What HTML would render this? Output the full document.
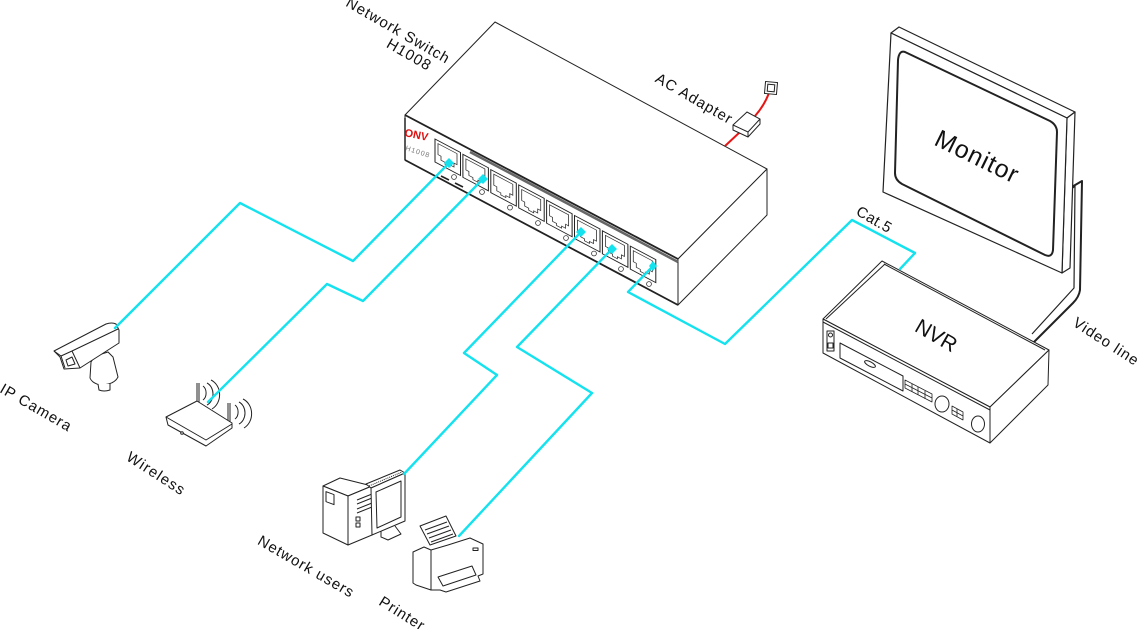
<!DOCTYPE html>
<html><head><meta charset="utf-8"><style>
html,body{margin:0;padding:0;background:#fff;}
svg{display:block;}
text{font-family:"Liberation Sans","DejaVu Sans",sans-serif;fill:#111;}
</style></head><body>
<svg width="1140" height="629" viewBox="0 0 1140 629" xmlns="http://www.w3.org/2000/svg">
<defs>
<g id="port">
  <path d="M0,0 L25.5,0 L25.5,23 L0,23 Z" fill="#fff" stroke="#222" stroke-width="1"/>
  <path d="M3,3 H22 V14 H19 V18 H15 V20 H10 V18 H6 V14 H3 Z" fill="none" stroke="#333" stroke-width="0.8"/>
</g>
</defs>

<!-- ===== Switch ===== -->
<g stroke="#222" stroke-width="1" fill="#fff" stroke-linejoin="round">
  <polygon points="495,22 767,169 678,259 405,115"/>
  <polygon points="405,115 678,259 678,305 405,160"/>
  <polygon points="678,259 767,169 767,215 678,305"/>
  <line x1="405" y1="115" x2="678" y2="259" stroke-width="1.8"/>
  <line x1="470" y1="152" x2="678" y2="262" stroke="#666" stroke-width="2.5"/>
  <line x1="405" y1="160" x2="678" y2="305" stroke-width="1.8"/>
  <line x1="405" y1="118" x2="405" y2="160" stroke-width="1.5"/>
</g>
<text x="404" y="136" font-size="11" font-weight="bold" style="fill:#e01010" transform="rotate(12 404 136)">ONV</text>
<text x="405" y="150" font-size="7" style="fill:#777;letter-spacing:1px" transform="rotate(18 405 150)">H1008</text>

<!-- ports -->
<g>
  <use href="#port" transform="matrix(1 0.53 0 1 435 139)"/>
  <use href="#port" transform="matrix(1 0.53 0 1 462.9 154.3)"/>
  <use href="#port" transform="matrix(1 0.53 0 1 490.8 169.6)"/>
  <use href="#port" transform="matrix(1 0.53 0 1 518.7 184.9)"/>
  <use href="#port" transform="matrix(1 0.53 0 1 546.6 200.2)"/>
  <use href="#port" transform="matrix(1 0.53 0 1 574.5 215.5)"/>
  <use href="#port" transform="matrix(1 0.53 0 1 602.4 230.8)"/>
  <use href="#port" transform="matrix(1 0.53 0 1 630.3 246.1)"/>
</g>
<g fill="#fff" stroke="#333" stroke-width="0.8">
  <circle cx="454" cy="177" r="2.4"/>
  <circle cx="482" cy="192" r="2.4"/>
  <circle cx="510" cy="207.6" r="2.4"/>
  <circle cx="538" cy="223" r="2.4"/>
  <circle cx="566" cy="238" r="2.4"/>
  <circle cx="594" cy="253.5" r="2.4"/>
  <circle cx="621" cy="269" r="2.4"/>
  <circle cx="649" cy="284" r="2.4"/>
</g>
<g stroke="#222" stroke-width="1.6">
  <line x1="441" y1="176" x2="449" y2="180"/>
  <line x1="455" y1="183" x2="463" y2="187"/>
</g>

<!-- AC adapter -->
<g stroke="#e81515" stroke-width="2" fill="none">
  <path d="M725,146 L740,132"/>
  <path d="M755,116 Q764,106 769,93"/>
</g>
<g stroke="#222" stroke-width="1" fill="#fff">
  <polygon points="733,125 747,112 760,119 760,124 748,137 733,130"/>
  <polyline points="733,125 748,132 760,119" fill="none"/>
  <line x1="748" y1="132" x2="748" y2="137"/>
  <rect x="765" y="82" width="12" height="12" transform="rotate(5 771 88)"/>
  <rect x="767.5" y="84.5" width="7" height="7" transform="rotate(5 771 88)"/>
</g>

<!-- ===== Monitor ===== -->
<g stroke="#222" stroke-width="1.2" fill="#fff" stroke-linejoin="round">
  <path d="M1070,188 L1082,181 L1080,290 Q1079,297 1073,303 L1034,342" fill="none" stroke-width="2"/>
  <path d="M1073,188 L1075,186 L1074,288 L1032,334" fill="none"/>
  <polygon points="891,33 899,27 1075,112 1067,118"/>
  <polygon points="1067,118 1075,112 1070,268 1062,273"/>
  <polygon points="891,33 1067,118 1062,273 883,192"/>
  <path d="M905,52 L1050,121 Q1057,125 1057,132 L1053,250 Q1052,258 1045,255 L902,184 Q895,180 895,173 L898,60 Q899,50 905,52 Z" stroke-width="2"/>
</g>
<text x="977" y="157" font-size="25" text-anchor="middle" dominant-baseline="central" transform="rotate(26 977 157)" style="letter-spacing:1px">Monitor</text>

<!-- ===== NVR ===== -->
<g stroke="#222" stroke-width="1" fill="#fff" stroke-linejoin="round">
  <polygon points="882,261 1049,350 990,407 823,319"/>
  <polyline points="884,264 1045,350" fill="none"/>
  <polyline points="826,319 885,264" fill="none"/>
  <polygon points="823,319 990,407 990,443 823,353"/>
  <polygon points="990,407 1049,350 1048,385 990,443"/>
  <line x1="823" y1="322" x2="990" y2="410"/>
  <rect x="827" y="331" width="7" height="20" fill="none"/>
  <circle cx="830.5" cy="335" r="2"/>
  <rect x="828" y="343" width="5" height="5"/>
  <polygon points="840,343 903,376 903,391 840,358"/>
  <ellipse cx="870" cy="364" rx="6" ry="2.2" transform="rotate(28 870 364)"/>
  <g stroke-width="0.8">
    <polygon points="905,380 932,394 932,402 905,388"/>
    <line x1="905" y1="384" x2="932" y2="398"/>
    <line x1="912" y1="384" x2="912" y2="392"/>
    <line x1="918" y1="387" x2="918" y2="395"/>
    <line x1="925" y1="391" x2="925" y2="399"/>
    <polygon points="952,406 963,412 963,420 952,414"/>
    <line x1="952" y1="410" x2="963" y2="416"/>
    <line x1="957" y1="409" x2="957" y2="417"/>
  </g>
  <ellipse cx="942" cy="404" rx="7" ry="8"/>
  <ellipse cx="978" cy="424" rx="6.5" ry="8"/>
</g>
<text x="936" y="336" font-size="21" text-anchor="middle" dominant-baseline="central" transform="rotate(30 936 336)">NVR</text>

<!-- ===== IP Camera ===== -->
<g stroke="#222" stroke-width="1" fill="#fff" stroke-linejoin="round">
  <path d="M91,362 L95,356 L108,352 L113,357 L118,377 Q114,385 100,385 Q92,383 90,378 Z"/>
  <path d="M98,384 L99,390 Q104,392 110,390 L110,384"/>
  <path d="M54,351 L106,324 Q112,322 116,324 L119,330 L119,343 L80,368 L64,369 L60,357 Z"/>
  <path d="M54,351 L61,356 L65,368 M61,356 L72,351 L80,368 M72,351 L118,329" fill="none"/>
  <path d="M66,360 L72,357 L75,364 L68,366 Z"/>
</g>

<!-- ===== Wireless router ===== -->
<g stroke="#222" stroke-width="1" fill="#fff" stroke-linejoin="round">
  <path d="M197,383 L197,403 M199,383 L199,403 M228,403 L228,424 M230,403 L230,424" fill="none"/>
  <path d="M166,417 L197,401 L232,423 L232,428 L206,446 L168,425 Z"/>
  <path d="M166,417 L206,440 L232,424" fill="none"/>
  <circle cx="182" cy="433" r="1.3"/>
  <g fill="none">
    <path d="M203,386 A6,8 0 0 1 203,400"/>
    <path d="M207,383 A10,12 0 0 1 207,405"/>
    <path d="M211,380 A14,16 0 0 1 212,409"/>
    <path d="M235,405 A6,8 0 0 1 235,419"/>
    <path d="M239,402 A10,12 0 0 1 239,424"/>
    <path d="M243,399 A14,16 0 0 1 244,428"/>
  </g>
</g>

<!-- ===== Computer ===== -->
<g stroke="#222" stroke-width="1" fill="#fff" stroke-linejoin="round">
  <polygon points="323,486 340,478 372,486 348,496"/>
  <polygon points="323,486 348,496 348,545 323,533"/>
  <polygon points="348,496 372,486 372,535 348,545"/>
  <rect x="326" y="492" width="8" height="10" transform="skewY(20) translate(0,-119)" fill="none"/>
  <path d="M357,500 L372,494 M357,504 L372,498 M357,509 L372,503 M357,513 L372,507" fill="none"/>
  <rect x="356" y="517" width="4" height="4"/>
  <rect x="356" y="523" width="4" height="4"/>
  <path d="M366,484 L400,470 L405,473 L371,488 Z"/>
  <path d="M369,486 L402,472" stroke-dasharray="1 1" fill="none"/>
  <polygon points="371,488 405,473 405,521 372,535"/>
  <polygon points="376,492 401,481 401,517 377,528" fill="none"/>
  <path d="M381,531 L381,537 L388,540 L401,534 L398,530 L395,526" fill="none"/>
</g>

<!-- ===== Printer ===== -->
<g stroke="#222" stroke-width="1" fill="#fff" stroke-linejoin="round">
  <polygon points="420,526 446,516 456,536 430,545"/>
  <path d="M425,530 L447,522 M427,534 L449,526 M429,538 L451,530 M431,542 L453,534" fill="none"/>
  <polygon points="431,550 448,545 470,538 483,544 483,574 478,576 480,581 446,592 440,590 431,590"/>
  <polygon points="413,552 424,547 431,550 431,590 416,585 413,583"/>
  <polygon points="438,577 472,566 476,575 443,586"/>
  <rect x="473" y="548" width="5" height="2.5"/>
</g>

<!-- ===== Cyan cables ===== -->
<g stroke="#14e2ee" stroke-width="2.4" fill="none" stroke-linejoin="round" stroke-linecap="round">
  <polyline points="449,163 353,261 240,203 115,328"/>
  <polyline points="483,179 363,301 327,284 208,402"/>
  <polyline points="581,232 464,353 497,375 404,474"/>
  <polyline points="612,249 517,347 592,393 459,536"/>
  <polyline points="653,266 628,292 725,344 852,220 915,253 900,269"/>
</g>
<g fill="#14e2ee">
  <polygon points="444,163 449,158 454,163 449,168"/>
  <polygon points="478,179 483,174 488,179 483,184"/>
  <polygon points="576,232 581,227 586,232 581,237"/>
  <polygon points="607,249 612,244 617,249 612,254"/>
  <polygon points="649,266 653,261 657,266 653,271"/>
</g>

<!-- ===== Labels ===== -->
<g font-size="15" text-anchor="middle" dominant-baseline="central">
  <text x="398" y="31" transform="rotate(30 398 31)" style="letter-spacing:1px">Network Switch</text>
  <text x="409" y="55" transform="rotate(30 409 55)" style="letter-spacing:1px">H1008</text>
  <text x="694" y="99" transform="rotate(30 694 99)" style="letter-spacing:1px">AC Adapter</text>
  <text x="874" y="220" transform="rotate(30 874 220)" style="letter-spacing:0.5px">Cat.5</text>
  <text x="1106" y="342" transform="rotate(33 1106 342)" style="letter-spacing:1px">Video line</text>
  <text x="36" y="408" transform="rotate(30 36 408)" style="letter-spacing:1px">IP Camera</text>
  <text x="156" y="474" transform="rotate(33 156 474)" style="letter-spacing:1.2px">Wireless</text>
  <text x="306" y="567" transform="rotate(30 306 567)" style="letter-spacing:1px">Network users</text>
  <text x="402" y="614" transform="rotate(32 402 614)" style="letter-spacing:1px">Printer</text>
</g>
</svg>
</body></html>
